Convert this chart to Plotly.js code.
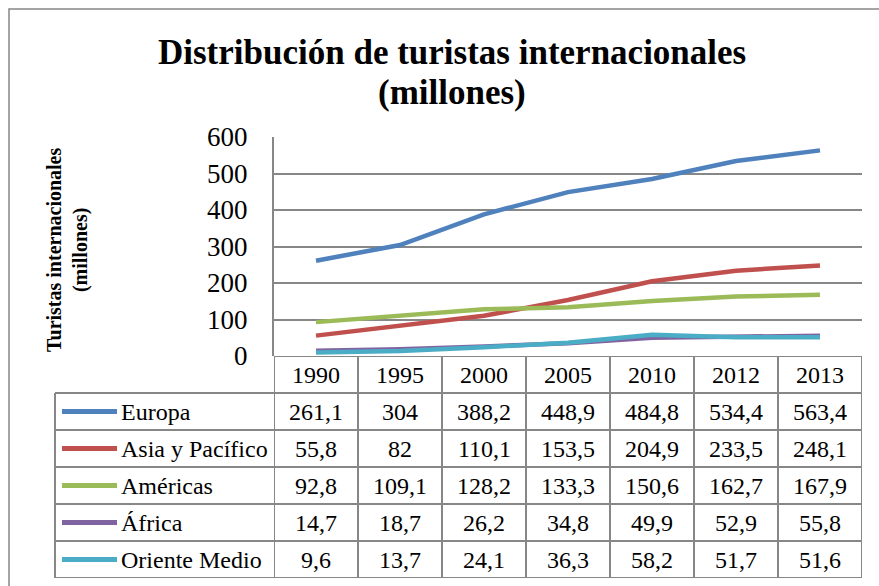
<!DOCTYPE html>
<html>
<head>
<meta charset="utf-8">
<script src="https://cdn.plot.ly/plotly-3.0.1.min.js"></script>
<style>html,body{margin:0;padding:0;background:#fff;}#chart{width:879px;height:586px;}</style>
</head>
<body>
<div id="chart"></div>
<script>
const years = ["1990", "1995", "2000", "2005", "2010", "2012", "2013"];
const seriesNames = ["Europa", "Asia y Pacífico", "Américas", "África", "Oriente Medio"];
const europa = [261.1, 304, 388.2, 448.9, 484.8, 534.4, 563.4];
const asiaPacifico = [55.8, 82, 110.1, 153.5, 204.9, 233.5, 248.1];
const americas = [92.8, 109.1, 128.2, 133.3, 150.6, 162.7, 167.9];
const africa = [14.7, 18.7, 26.2, 34.8, 49.9, 52.9, 55.8];
const orienteMedio = [9.6, 13.7, 24.1, 36.3, 58.2, 51.7, 51.6];
const yTicks = [0, 100, 200, 300, 400, 500, 600];
const colors = ["#4F81BD", "#C0504D", "#9BBB59", "#8064A2", "#4BACC6"];

const seriesValues = [europa, asiaPacifico, americas, africa, orienteMedio];
const W = 879, H = 586;
const px = v => v / W;
const py = v => 1 - v / H;
const FONT = "Liberation Serif, Times New Roman, serif";
const GRID = "#878787";

const traces = seriesValues.map((vals, i) => ({
  type: "scatter", mode: "lines",
  x: years, y: vals, name: seriesNames[i],
  line: {color: colors[i], width: 4.5},
  xaxis: "x", yaxis: "y", showlegend: false, hoverinfo: "x+y"
}));

const shapes = [];
const annotations = [];

// outer chart frame
shapes.push({type: "rect", xref: "paper", yref: "paper",
  x0: px(9), x1: 1.02, y0: -0.02, y1: py(9),
  line: {color: GRID, width: 1.5}, fillcolor: "rgba(0,0,0,0)"});

// table vertical separators (on data columns)
for (let c = 0; c <= years.length; c++) {
  shapes.push({type: "line", xref: "x", yref: "y2",
    x0: c - 0.5, x1: c - 0.5, y0: -0.5, y1: seriesNames.length + 0.5,
    line: {color: GRID, width: 2}});
}
// header row top line
shapes.push({type: "line", xref: "x", yref: "y2",
  x0: -0.5, x1: years.length - 0.5, y0: -0.5, y1: -0.5,
  line: {color: GRID, width: 2}});
// legend column left line
shapes.push({type: "line", xref: "paper", yref: "y2",
  x0: px(55), x1: px(55), y0: 0.5, y1: seriesNames.length + 0.5,
  line: {color: GRID, width: 2}});
// row lines
for (let r = 0; r <= seriesNames.length; r++) {
  shapes.push({type: "line", xref: "paper", yref: "y2",
    x0: px(55), x1: px(862), y0: r + 0.5, y1: r + 0.5,
    line: {color: GRID, width: 2}});
}

// header years
years.forEach((yr, c) => {
  annotations.push({xref: "x", yref: "y2", x: c, y: 0, text: yr,
    xanchor: "center", yanchor: "middle",
    showarrow: false, font: {family: FONT, size: 24, color: "#000"}});
});

// legend keys + names + values
seriesNames.forEach((name, i) => {
  const row = i + 1;
  shapes.push({type: "line", xref: "paper", yref: "y2",
    x0: px(62), x1: px(117), y0: row, y1: row,
    line: {color: colors[i], width: 5}});
  annotations.push({xref: "paper", yref: "y2", x: px(119), y: row, text: name,
    xanchor: "left", yanchor: "middle", showarrow: false,
    font: {family: FONT, size: 24, color: "#000"}});
  seriesValues[i].forEach((v, c) => {
    annotations.push({xref: "x", yref: "y2", x: c, y: row,
      text: String(v).replace(".", ","), xanchor: "center", yanchor: "middle",
      showarrow: false, font: {family: FONT, size: 24, color: "#000"}});
  });
});

// title lines
annotations.push({xref: "paper", yref: "paper", x: px(452), y: py(52.5),
  xanchor: "center", yanchor: "middle",
  text: "<b>Distribución de turistas internacionales</b>", showarrow: false,
  font: {family: FONT, size: 35, color: "#000"}});
annotations.push({xref: "paper", yref: "paper", x: px(452), y: py(92.5),
  xanchor: "center", yanchor: "middle",
  text: "<b>(millones)</b>", showarrow: false,
  font: {family: FONT, size: 35, color: "#000"}});

// y axis title
annotations.push({xref: "paper", yref: "paper", x: px(67), y: py(250),
  xanchor: "center", yanchor: "middle",
  text: "<b>Turistas internacionales<br>(millones)</b>", textangle: -90,
  showarrow: false, font: {family: FONT, size: 20, color: "#000"}});

const layout = {
  width: W, height: H,
  margin: {l: 0, r: 0, t: 0, b: 0},
  paper_bgcolor: "#fff", plot_bgcolor: "#fff",
  showlegend: false,
  xaxis: {
    type: "category", domain: [px(274), px(862)], range: [-0.5, years.length - 0.5],
    showgrid: false, showticklabels: false, zeroline: false, showline: false, ticks: ""
  },
  yaxis: {
    domain: [py(356), py(137)], range: [0, 600],
    tickvals: yTicks, ticktext: yTicks.map(String),
    showgrid: true, gridcolor: GRID, gridwidth: 2,
    zeroline: false, showline: true, linecolor: GRID, linewidth: 2,
    ticks: "", ticklabelstandoff: 19,
    tickfont: {family: FONT, size: 27, color: "#000"}
  },
  yaxis2: {
    domain: [py(578), py(356)], range: [seriesNames.length + 0.5, -0.5],
    showgrid: false, showticklabels: false, zeroline: false, showline: false,
    anchor: "x"
  },
  shapes: shapes,
  annotations: annotations
};

Plotly.newPlot("chart", traces, layout, {displayModeBar: false, staticPlot: true});
</script>
</body>
</html>
